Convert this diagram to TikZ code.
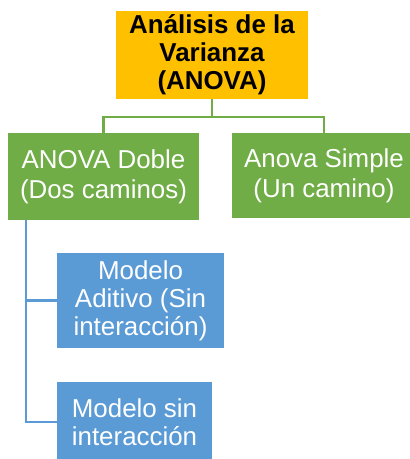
\documentclass[tikz,border=0pt]{standalone}
\usepackage{fontspec}
\setmainfont{Liberation Sans}
\usepackage{tikz}
\usetikzlibrary{positioning}

\definecolor{gold}{HTML}{FFC000}
\definecolor{leaf}{HTML}{70AD47}
\definecolor{sky}{HTML}{5B9BD5}

\tikzset{
    box/.style = {inner sep=0pt, align=center, font=\fontsize{26}{28}\selectfont},
    rootbox/.style = {box, fill=gold, text=black, font=\bfseries\fontsize{26}{28}\selectfont},
    greenbox/.style = {box, fill=leaf, text=white, font=\fontsize{26}{30}\selectfont},
    bluebox/.style = {box, fill=sky, text=white},
    greenline/.style = {draw=leaf, line width=2.5bp},
    blueline/.style = {draw=sky, line width=2.5bp}
}

\begin{document}
\begin{tikzpicture}[x=1bp, y=-1bp]
    \useasboundingbox (0, 0) rectangle (409, 459);

    \node[rootbox, minimum width=192bp, minimum height=88bp] (anova) at (212, 55) {An\'alisis de la\\Varianza\\(ANOVA)};

    \node[greenbox, minimum width=191bp, minimum height=87bp] (doble) at (103.5, 176.5) {ANOVA Doble\\(Dos caminos)};
    \node[greenbox, minimum width=184bp, minimum height=85bp] (simple) at (324, 175.5) {Anova Simple\\(Un camino)};

    \node[bluebox, minimum width=167bp, minimum height=95bp] (aditivo) at (140.5, 300.5) {Modelo\\Aditivo (Sin\\interacci\'on)};
    \node[bluebox, minimum width=155bp, minimum height=80bp] (sininter) at (134.5, 422) {Modelo sin\\interacci\'on};

    \draw[greenline] (anova.south) -- ++(0, 18) -| (doble.north);
    \draw[greenline] (anova.south) -- ++(0, 18) -| (simple.north);

    \draw[blueline] ([xshift=18bp]doble.south west) |- (aditivo.west);
    \draw[blueline] ([xshift=18bp]doble.south west) |- (sininter.west);

\end{tikzpicture}
\end{document}
